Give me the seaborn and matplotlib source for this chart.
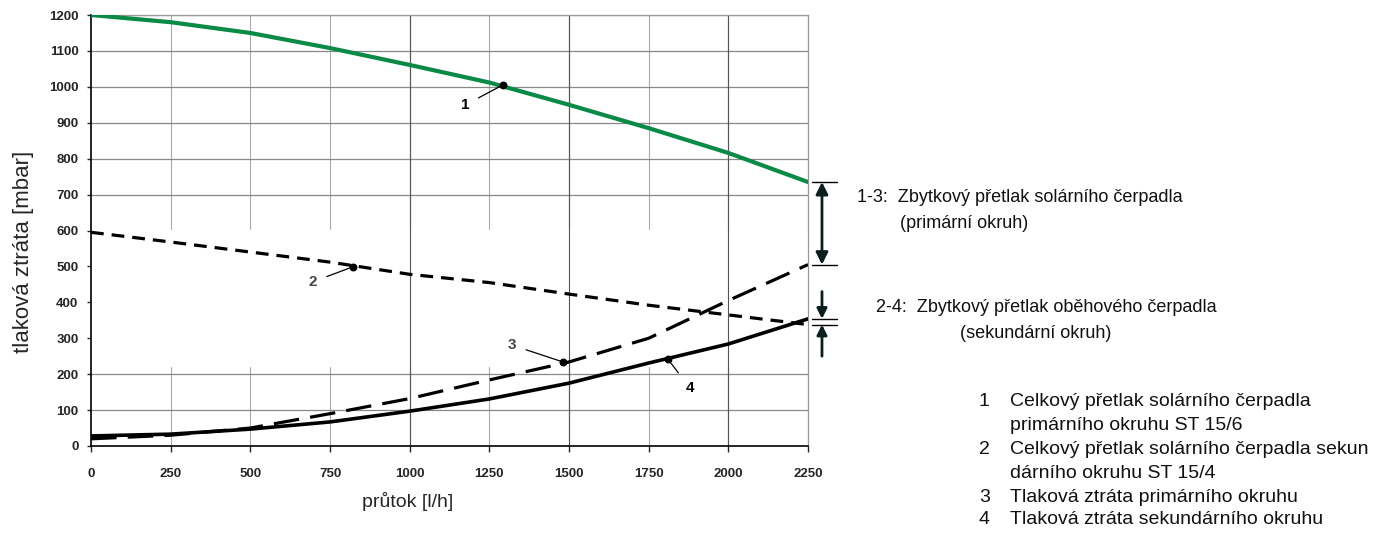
import seaborn as sns
import pandas as pd
import matplotlib.pyplot as plt

sns.set_style("white")
plt.rcParams['font.family'] = ['Liberation Sans', 'DejaVu Sans']

# data
flow = [0, 250, 500, 750, 1000, 1250, 1500, 1750, 2000, 2250]
pump_primary = [1200, 1180, 1150, 1108, 1061, 1012, 950, 885, 816, 735]
pump_secondary = [595, 568, 540, 512, 478, 455, 423, 392, 365, 338]
loss_primary = [20, 30, 50, 90, 132, 184, 234, 300, 405, 505]
loss_secondary = [28, 33, 47, 67, 97, 131, 175, 231, 284, 354]

# annotated points (label, x, y, label_x, label_y)
marks = [('1', 1292, 1005, 1173, 949),
         ('2', 822, 499, 696, 457),
         ('3', 1481, 234, 1321, 281),
         ('4', 1811, 241, 1880, 161)]

x_ticks = [0, 250, 500, 750, 1000, 1250, 1500, 1750, 2000, 2250]
y_ticks = [0, 100, 200, 300, 400, 500, 600, 700, 800, 900, 1000, 1100, 1200]

df = pd.DataFrame({'flow': flow, 'c1': pump_primary, 'c2': pump_secondary,
                   'c3': loss_primary, 'c4': loss_secondary})

fig = plt.figure(figsize=(13.79, 5.33), dpi=100)
ax = fig.add_axes([91 / 1379, 87 / 533, 717 / 1379, 431 / 533])

# grid (the original has a blank band between ~220 and 600 mbar)
gap_lo, gap_hi = 222, 600
for v in x_ticks[1:]:
    dark = v in (1000, 1500, 2000)
    ax.axvline(v, color='#555555' if dark else '#aaaaaa', lw=0.8, zorder=0)
for v in y_ticks[1:]:
    if gap_lo < v < gap_hi:
        continue
    ax.axhline(v, color='#888888', lw=0.9, zorder=0)
ax.axhspan(gap_lo, gap_hi, color='white', zorder=0.5)
for v in (1000, 1500, 2000):
    ax.axvline(v, color='#555555', lw=0.8, zorder=0.6)

sns.lineplot(data=df, x='flow', y='c1', color='#0a8a46', linewidth=3, ax=ax, zorder=3)
sns.lineplot(data=df, x='flow', y='c2', color='black', linewidth=2.3, ax=ax, zorder=3,
             linestyle=(0, (4, 2.5)))
sns.lineplot(data=df, x='flow', y='c3', color='black', linewidth=2.3, ax=ax, zorder=3,
             linestyle=(0, (8, 3.5)))
sns.lineplot(data=df, x='flow', y='c4', color='black', linewidth=2.6, ax=ax, zorder=3)

for lab, px, py, lx, ly in marks:
    ax.scatter([px], [py], s=22, color='black', zorder=4)
    ax.annotate(lab, xy=(px, py), xytext=(lx, ly), fontsize=11, fontweight='bold',
                color='black' if lab in ('1', '4') else '#444444',
                ha='center', va='center',
                arrowprops=dict(arrowstyle='-', color='black', lw=0.9, shrinkA=5, shrinkB=0))

ax.set_xlim(0, 2250)
ax.set_ylim(0, 1200)
ax.set_xticks(x_ticks)
ax.set_yticks(y_ticks)
ax.set_xticklabels([str(v) for v in x_ticks], fontsize=9.5, fontweight='bold')
ax.set_yticklabels([str(v) for v in y_ticks], fontsize=9.5, fontweight='bold')
ax.tick_params(axis='x', direction='out', length=4, width=1, pad=12, bottom=True)
ax.tick_params(axis='y', direction='out', length=3, width=1, pad=6, left=True)

ax.set_xlabel('průtok [l/h]', fontsize=14)
ax.set_ylabel('tlaková ztráta [mbar]', fontsize=16)
ax.xaxis.set_label_coords(0.441, -0.107)
ax.yaxis.set_label_coords(-0.080, 0.45)

for s in ('left', 'bottom'):
    ax.spines[s].set_color('black')
    ax.spines[s].set_linewidth(1.2)
for s in ('top', 'right'):
    ax.spines[s].set_color('#999999')
    ax.spines[s].set_linewidth(0.9)

# dimension arrows outside the plot
tr = ax.get_yaxis_transform()
xa = 1.0195
for yv in (pump_primary[-1], loss_primary[-1]):
    ax.plot([1.006, 1.040], [yv, yv], transform=tr, color='black', lw=1, clip_on=False)
ax.annotate('', xy=(xa, pump_primary[-1]), xytext=(xa, loss_primary[-1]),
            xycoords=tr, textcoords=tr,
            arrowprops=dict(arrowstyle='<|-|>', color='#0a1e1e', lw=2, mutation_scale=18,
                            shrinkA=0, shrinkB=0))
for yv in (loss_secondary[-1], pump_secondary[-1]):
    ax.plot([1.006, 1.040], [yv, yv], transform=tr, color='black', lw=1, clip_on=False)
ax.annotate('', xy=(xa, loss_secondary[-1]), xytext=(xa, 430),
            xycoords=tr, textcoords=tr,
            arrowprops=dict(arrowstyle='-|>', color='#0a1e1e', lw=2, mutation_scale=15,
                            shrinkA=0, shrinkB=0))
ax.annotate('', xy=(xa, pump_secondary[-1]), xytext=(xa, 250),
            xycoords=tr, textcoords=tr,
            arrowprops=dict(arrowstyle='-|>', color='#0a1e1e', lw=2, mutation_scale=15,
                            shrinkA=0, shrinkB=0))

W, H = 1379, 533
def ftext(px, py, s, **kw):
    fig.text(px / W, 1 - py / H, s, va='center', ha='left', color='#111111', **kw)

ftext(857, 198, '1-3:  Zbytkový přetlak solárního čerpadla', fontsize=13)
ftext(900, 223, '(primární okruh)', fontsize=13)
ftext(876, 307, '2-4:  Zbytkový přetlak oběhového čerpadla', fontsize=13)
ftext(960, 333, '(sekundární okruh)', fontsize=13)

legend_nums = ['1', '', '2', '', '3', '4']
legend_lines = ['Celkový přetlak solárního čerpadla', 'primárního okruhu ST 15/6',
                'Celkový přetlak solárního čerpadla sekun', 'dárního okruhu ST 15/4',
                'Tlaková ztráta primárního okruhu', 'Tlaková ztráta sekundárního okruhu']
legend_y = [401, 425, 450, 474, 498, 520]
for n, t, yy in zip(legend_nums, legend_lines, legend_y):
    if n:
        ftext(979, yy, n, fontsize=14)
    ftext(1010, yy, t, fontsize=14)

plt.savefig('out.png', dpi=100)
